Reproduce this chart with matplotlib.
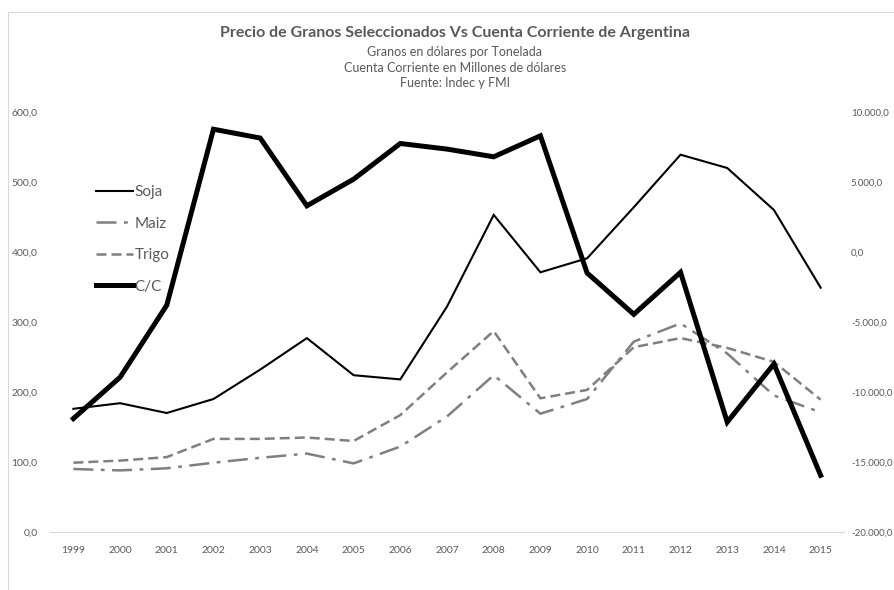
import matplotlib
matplotlib.use("Agg")
import matplotlib.pyplot as plt
from matplotlib.lines import Line2D
from matplotlib.ticker import FuncFormatter, MultipleLocator

# Datos
anios = [1999, 2000, 2001, 2002, 2003, 2004, 2005, 2006, 2007,
         2008, 2009, 2010, 2011, 2012, 2013, 2014, 2015]
soja = [176, 184, 170, 190, 232, 277, 224, 218, 322,
        453, 371, 391, 464, 539, 520, 460, 349]
maiz = [90, 88, 91, 99, 106, 112, 98, 122, 165,
        224, 169, 190, 272, 298, 255, 195, 171]
trigo = [99, 102, 107, 133, 133, 135, 130, 167, 228,
         287, 191, 203, 264, 277, 263, 243, 189]
cc = [-11900, -8950, -3800, 8770, 8140, 3300, 5200, 7750, 7350,
      6800, 8300, -1500, -4450, -1450, -12150, -8000, -15950]

plt.rcParams['font.family'] = ['Lato', 'DejaVu Sans']

gris_texto = '#595959'
gris_linea = '#7f7f7f'

fig = plt.figure(figsize=(8.95, 5.9), dpi=100)
fig.patch.set_facecolor('white')
ax = fig.add_axes([50 / 895, 1 - 532 / 590, 794 / 895, 420 / 590])
ax2 = ax.twinx()

x = list(range(len(anios)))

l1, = ax.plot(x, soja, color='black', lw=1.5, label='Soja', solid_joinstyle='miter')
l2, = ax.plot(x, maiz, color=gris_linea, lw=1.8, linestyle=(0, (8, 3, 1.5, 3)), label='Maiz')
l3, = ax.plot(x, trigo, color=gris_linea, lw=1.8, linestyle=(0, (4, 2)), label='Trigo')
l4, = ax2.plot(x, cc, color='black', lw=3.6, label='C/C', solid_joinstyle='miter')

ax.set_xlim(-0.5, len(anios) - 0.5)
ax.set_ylim(0, 600)
ax2.set_ylim(-20000, 10000)
ax.yaxis.set_major_locator(MultipleLocator(100))
ax2.yaxis.set_major_locator(MultipleLocator(5000))


def formato_es(v, pos=None):
    s = f"{v:,.1f}"
    return s.replace(',', 'X').replace('.', ',').replace('X', '.')


ax.yaxis.set_major_formatter(FuncFormatter(formato_es))
ax2.yaxis.set_major_formatter(FuncFormatter(formato_es))
ax.set_xticks(x)
ax.set_xticklabels([str(a) for a in anios])

for a in (ax, ax2):
    for s in a.spines.values():
        s.set_visible(False)
    a.tick_params(length=0, labelsize=7.5, labelcolor=gris_texto)
ax.spines['bottom'].set_visible(True)
ax.spines['bottom'].set_color('#d9d9d9')
ax.spines['bottom'].set_linewidth(0.8)
ax.tick_params(axis='y', pad=9)
ax.tick_params(axis='x', pad=10)
ax2.tick_params(axis='y', pad=5, labelsize=7.0)

# Títulos
fig.text(455 / 895, 1 - 33 / 590, 'Precio de Granos Seleccionados Vs Cuenta Corriente de Argentina',
         ha='center', va='center', fontsize=11.5, fontweight='bold', color=gris_texto)
subs = ['Granos en dólares por Tonelada',
        'Cuenta Corriente en Millones de dólares',
        'Fuente: Indec y FMI']
for i, t in enumerate(subs):
    fig.text(455 / 895, 1 - (52 + 15.5 * i) / 590, t, ha='center', va='center',
             fontsize=9, color=gris_texto)

# Leyenda
leg = ax.legend([l1, l2, l3, l4], ['Soja', 'Maiz', 'Trigo', 'C/C'],
                loc='upper left', bbox_to_anchor=(40 / 794, (532 - 179) / 420),
                frameon=False, fontsize=11, handlelength=2.4, handletextpad=0.1,
                labelspacing=1.15, borderaxespad=0)
for t in leg.get_texts():
    t.set_color(gris_texto)

# Borde del área del gráfico
fig.add_artist(Line2D([8 / 895, 1], [1 - 12 / 590, 1 - 12 / 590], color='#d9d9d9', lw=0.8))
fig.add_artist(Line2D([8 / 895, 8 / 895], [0, 1 - 12 / 590], color='#d9d9d9', lw=0.8))

fig.savefig('out.png', dpi=100, facecolor='white')
plt.close(fig)
